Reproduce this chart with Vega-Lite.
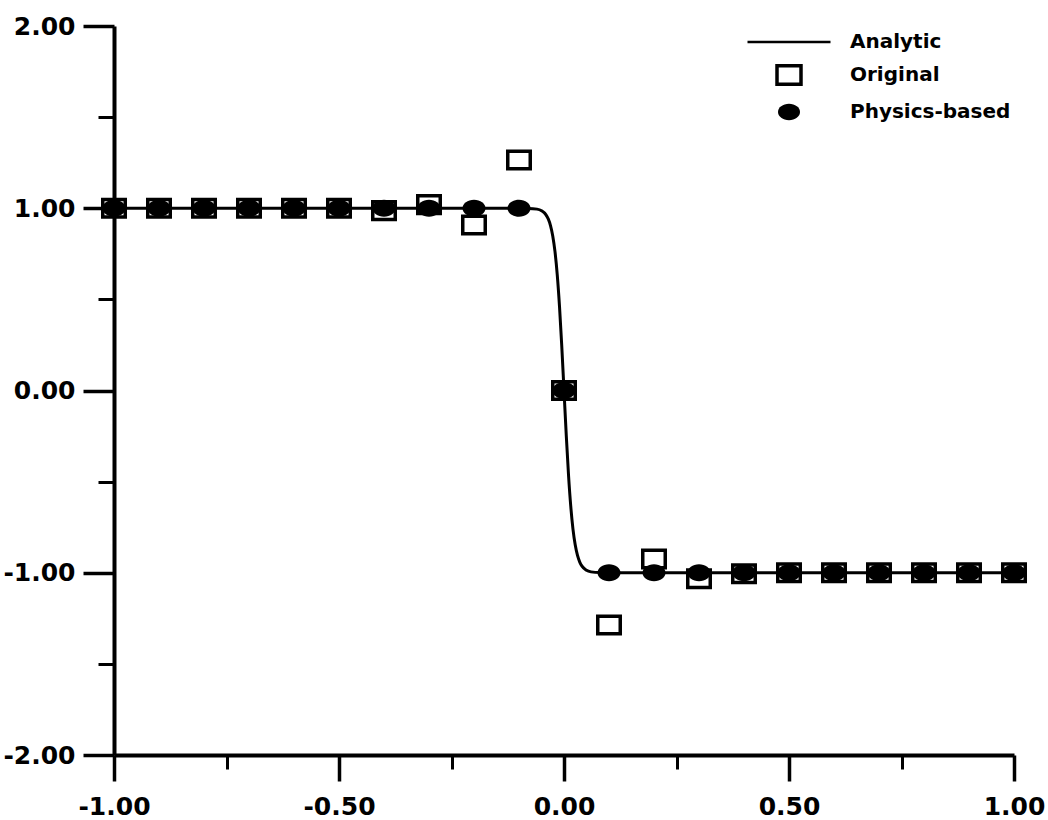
{
  "$schema": "https://vega.github.io/schema/vega-lite/v6.json",
  "width": 900,
  "height": 729,
  "autosize": {"type": "none"},
  "padding": {"left": 114, "top": 26, "right": 34, "bottom": 65},
  "background": "white",
  "config": {"view": {"stroke": null}},
  "datasets": {
    "analytic": [
      {"x": -1, "y": 1, "series": "Analytic"},
      {"x": -0.2, "y": 1, "series": "Analytic"},
      {"x": -0.1, "y": 0.9999, "series": "Analytic"},
      {"x": -0.08, "y": 0.9993, "series": "Analytic"},
      {"x": -0.06, "y": 0.9951, "series": "Analytic"},
      {"x": -0.05, "y": 0.9866, "series": "Analytic"},
      {"x": -0.04, "y": 0.964, "series": "Analytic"},
      {"x": -0.035, "y": 0.9413, "series": "Analytic"},
      {"x": -0.03, "y": 0.9051, "series": "Analytic"},
      {"x": -0.025, "y": 0.8483, "series": "Analytic"},
      {"x": -0.02, "y": 0.7616, "series": "Analytic"},
      {"x": -0.015, "y": 0.6351, "series": "Analytic"},
      {"x": -0.01, "y": 0.4621, "series": "Analytic"},
      {"x": -0.005, "y": 0.2449, "series": "Analytic"},
      {"x": 0, "y": 0, "series": "Analytic"},
      {"x": 0.005, "y": -0.2449, "series": "Analytic"},
      {"x": 0.01, "y": -0.4621, "series": "Analytic"},
      {"x": 0.015, "y": -0.6351, "series": "Analytic"},
      {"x": 0.02, "y": -0.7616, "series": "Analytic"},
      {"x": 0.025, "y": -0.8483, "series": "Analytic"},
      {"x": 0.03, "y": -0.9051, "series": "Analytic"},
      {"x": 0.035, "y": -0.9413, "series": "Analytic"},
      {"x": 0.04, "y": -0.964, "series": "Analytic"},
      {"x": 0.05, "y": -0.9866, "series": "Analytic"},
      {"x": 0.06, "y": -0.9951, "series": "Analytic"},
      {"x": 0.08, "y": -0.9993, "series": "Analytic"},
      {"x": 0.1, "y": -0.9999, "series": "Analytic"},
      {"x": 0.2, "y": -1, "series": "Analytic"},
      {"x": 1, "y": -1, "series": "Analytic"}
    ],
    "original": [
      {"x": -1, "y": 1, "series": "Original"},
      {"x": -0.9, "y": 1, "series": "Original"},
      {"x": -0.8, "y": 1, "series": "Original"},
      {"x": -0.7, "y": 1, "series": "Original"},
      {"x": -0.6, "y": 1, "series": "Original"},
      {"x": -0.5, "y": 1, "series": "Original"},
      {"x": -0.4, "y": 0.987, "series": "Original"},
      {"x": -0.3, "y": 1.02, "series": "Original"},
      {"x": -0.2, "y": 0.908, "series": "Original"},
      {"x": -0.1, "y": 1.265, "series": "Original"},
      {"x": 0, "y": 0, "series": "Original"},
      {"x": 0.1, "y": -1.287, "series": "Original"},
      {"x": 0.2, "y": -0.925, "series": "Original"},
      {"x": 0.3, "y": -1.033, "series": "Original"},
      {"x": 0.4, "y": -1.005, "series": "Original"},
      {"x": 0.5, "y": -1, "series": "Original"},
      {"x": 0.6, "y": -1, "series": "Original"},
      {"x": 0.7, "y": -1, "series": "Original"},
      {"x": 0.8, "y": -1, "series": "Original"},
      {"x": 0.9, "y": -1, "series": "Original"},
      {"x": 1, "y": -1, "series": "Original"}
    ],
    "physics": [
      {"x": -1, "y": 1, "series": "Physics-based"},
      {"x": -0.9, "y": 1, "series": "Physics-based"},
      {"x": -0.8, "y": 1, "series": "Physics-based"},
      {"x": -0.7, "y": 1, "series": "Physics-based"},
      {"x": -0.6, "y": 1, "series": "Physics-based"},
      {"x": -0.5, "y": 1, "series": "Physics-based"},
      {"x": -0.4, "y": 1, "series": "Physics-based"},
      {"x": -0.3, "y": 1, "series": "Physics-based"},
      {"x": -0.2, "y": 1, "series": "Physics-based"},
      {"x": -0.1, "y": 1, "series": "Physics-based"},
      {"x": 0, "y": 0, "series": "Physics-based"},
      {"x": 0.1, "y": -1, "series": "Physics-based"},
      {"x": 0.2, "y": -1, "series": "Physics-based"},
      {"x": 0.3, "y": -1, "series": "Physics-based"},
      {"x": 0.4, "y": -1, "series": "Physics-based"},
      {"x": 0.5, "y": -1, "series": "Physics-based"},
      {"x": 0.6, "y": -1, "series": "Physics-based"},
      {"x": 0.7, "y": -1, "series": "Physics-based"},
      {"x": 0.8, "y": -1, "series": "Physics-based"},
      {"x": 0.9, "y": -1, "series": "Physics-based"},
      {"x": 1, "y": -1, "series": "Physics-based"}
    ]
  },
  "layer": [
    {
      "data": {"name": "analytic"},
      "mark": {"type": "line", "strokeWidth": 3, "interpolate": "monotone", "clip": false},
      "encoding": {
        "x": {
          "field": "x", "type": "quantitative",
          "scale": {"domain": [-1, 1], "nice": false, "zero": false},
          "axis": {
            "orient": "bottom", "title": null, "grid": false,
            "values": [-1, -0.5, 0, 0.5, 1],
            "labelExpr": "replace(format(datum.value, '.2f'), '\u2212', '-')",
            "domain": true, "domainColor": "black", "domainWidth": 4,
            "ticks": true, "tickColor": "black", "tickSize": 26, "tickWidth": 3.5,
            "labelFont": "DejaVu Sans", "labelFontWeight": "bold", "labelFontSize": 25,
            "labelColor": "black", "labelPadding": 13, "labelFlush": false, "labelOverlap": false
          }
        },
        "y": {
          "field": "y", "type": "quantitative",
          "scale": {"domain": [-2, 2], "nice": false, "zero": false},
          "axis": {
            "orient": "left", "title": null, "grid": false,
            "values": [-2, -1, 0, 1, 2],
            "labelExpr": "replace(format(datum.value, '.2f'), '\u2212', '-')",
            "domain": true, "domainColor": "black", "domainWidth": 4,
            "ticks": true, "tickColor": "black", "tickSize": 31, "tickWidth": 3.5,
            "labelFont": "DejaVu Sans", "labelFontWeight": "bold", "labelFontSize": 25,
            "labelColor": "black", "labelPadding": 8, "labelFlush": false, "labelOverlap": false
          }
        },
        "color": {
          "field": "series", "type": "nominal",
          "scale": {"domain": ["Analytic"], "range": ["black"]},
          "legend": {
            "orient": "none", "legendX": 632, "legendY": -27, "title": null,
            "padding": 0, "symbolType": "stroke", "symbolSize": 6889, "symbolStrokeWidth": 2.5,
            "symbolStrokeColor": "black", "symbolOpacity": 1, "labelOffset": 18,
            "labelFont": "DejaVu Sans", "labelFontWeight": "bold", "labelFontSize": 20,
            "labelColor": "black", "labelLimit": 400
          }
        }
      }
    },
    {
      "data": {"name": "original"},
      "mark": {"type": "point", "filled": false, "stroke": "black", "strokeWidth": 3.5, "size": 506, "opacity": 1, "clip": false},
      "encoding": {
        "x": {
          "field": "x", "type": "quantitative",
          "axis": {
            "orient": "bottom", "title": null, "grid": false, "labels": false, "domain": false,
            "values": [-0.75, -0.25, 0.25, 0.75],
            "ticks": true, "tickColor": "black", "tickSize": 14, "tickWidth": 3
          }
        },
        "y": {
          "field": "y", "type": "quantitative",
          "axis": {
            "orient": "left", "title": null, "grid": false, "labels": false, "domain": false,
            "values": [-1.5, -0.5, 0.5, 1.5],
            "ticks": true, "tickColor": "black", "tickSize": 16, "tickWidth": 3
          }
        },
        "shape": {
          "field": "series", "type": "nominal",
          "scale": {"domain": ["Original"], "range": ["M-1,-0.78H1V0.78H-1Z"]},
          "legend": {
            "orient": "none", "legendX": 661, "legendY": 35, "title": null,
            "padding": 0, "symbolSize": 576, "symbolStrokeWidth": 3.5, "symbolStrokeColor": "black",
            "symbolFillColor": "transparent", "symbolOpacity": 1, "labelOffset": 47,
            "labelFont": "DejaVu Sans", "labelFontWeight": "bold", "labelFontSize": 20,
            "labelColor": "black", "labelLimit": 400
          }
        }
      }
    },
    {
      "data": {"name": "physics"},
      "mark": {"type": "point", "filled": true, "fill": "black", "strokeWidth": 0, "size": 529, "opacity": 1, "clip": false},
      "encoding": {
        "x": {"field": "x", "type": "quantitative", "axis": null},
        "y": {"field": "y", "type": "quantitative", "axis": null},
        "shape": {
          "field": "series", "type": "nominal",
          "scale": {"domain": ["Physics-based"], "range": ["M-1,0A1,0.74 0 0,1 1,0A1,0.74 0 0,1 -1,0Z"]},
          "legend": {
            "orient": "none", "legendX": 664, "legendY": 75, "title": null,
            "padding": 0, "symbolSize": 484, "symbolStrokeWidth": 0,
            "symbolFillColor": "black", "symbolOpacity": 1, "labelOffset": 50,
            "labelFont": "DejaVu Sans", "labelFontWeight": "bold", "labelFontSize": 20,
            "labelColor": "black", "labelLimit": 400
          }
        }
      }
    }
  ],
  "resolve": {
    "scale": {"shape": "independent"},
    "legend": {"shape": "independent"},
    "axis": {"x": "independent", "y": "independent"}
  }
}
